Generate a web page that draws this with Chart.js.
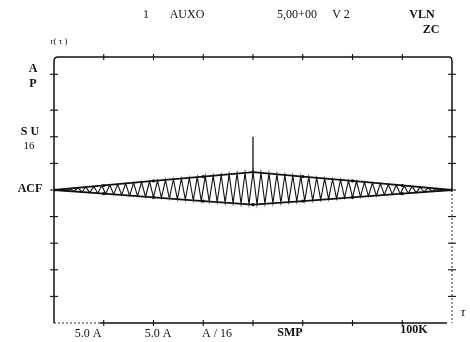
<!DOCTYPE html>
<html>
<head>
<meta charset="utf-8">
<script src="https://cdn.jsdelivr.net/npm/chart.js@4/dist/chart.umd.min.js"></script>
<style>
  html, body { margin: 0; padding: 0; background: #fff; }
  canvas { display: block; }
</style>
</head>
<body>
<canvas id="acf" width="470" height="342"></canvas>
<script>
// autocorrelation trace, one value per lag step
var acfValues = [
  0, -0.02, 0.05, -0.07, 0.11, -0.11, 0.16, -0.15, 0.22, -0.20,
  0.27, -0.24, 0.32, -0.29, 0.38, -0.33, 0.43, -0.37, 0.49, -0.42,
  0.54, -0.46, 0.59, -0.51, 0.65, -0.55, 0.70, -0.59, 0.76, -0.64,
  0.81, -0.68, 0.86, -0.73, 0.92, -0.77, 0.97, -0.81, 1.03, -0.86,
  1.08, -0.90, 1.13, -0.95, 1.19, -0.99, 1.24, -1.03, 1.30, -1.08,
  1.35,
  -1.08, 1.30, -1.03, 1.24, -0.99, 1.19, -0.95, 1.13, -0.90, 1.08,
  -0.86, 1.03, -0.81, 0.97, -0.77, 0.92, -0.73, 0.86, -0.68, 0.81,
  -0.64, 0.76, -0.59, 0.70, -0.55, 0.65, -0.51, 0.59, -0.46, 0.54,
  -0.42, 0.49, -0.37, 0.43, -0.33, 0.38, -0.29, 0.32, -0.24, 0.27,
  -0.20, 0.22, -0.15, 0.16, -0.11, 0.11, -0.07, 0.05, -0.02, 0
];

// envelope of the trace
var envLags  = [0, 12.5, 25, 37.5, 50, 62.5, 75, 87.5, 100];
var envUpper = [0, 0.34, 0.68, 1.01, 1.35, 1.01, 0.68, 0.34, 0];
var envLower = [0, -0.28, -0.55, -0.83, -1.1, -0.83, -0.55, -0.28, 0];

// marker spike at the centre lag
var spikeLag = 50;
var spikeY = [1.35, 4.0];

// division marks on the frame
var xTicks = [12.5, 25, 37.5, 50, 62.5, 75, 87.5];
var yTicks = [8.7, 6, 4, 2, 0, -2, -4, -6, -8];

var topLabels = ['1', 'AUXO', '5,00+00', 'V 2'];
var sideLabels = ['A', 'P', 'S U', '16', 'ACF'];
var bottomLabels = ['5.0 A', '5.0 A', 'A / 16', 'SMP', '100K'];

var ink = '#111';
var serif = '"Liberation Serif", "DejaVu Serif", serif';

function pairs(xs, ys) {
    return xs.map(function(x, i) { return { x: x, y: ys[i] }; });
}

// frame with cross ticks and the panel texts
var panel = {
    id: 'panel',
    afterDatasetsDraw: function(chart) {
        var ctx = chart.ctx;
        var a = chart.chartArea;
        var sx = chart.scales.x, sy = chart.scales.y;
        var zero = sy.getPixelForValue(0);

        function seg(x1, y1, x2, y2) {
            ctx.beginPath();
            ctx.moveTo(x1, y1);
            ctx.lineTo(x2, y2);
            ctx.stroke();
        }

        ctx.save();
        ctx.strokeStyle = ink;
        ctx.lineWidth = 1.5;
        // top and left edges with rounded corners
        ctx.beginPath();
        ctx.moveTo(a.left, a.bottom);
        ctx.lineTo(a.left, a.top + 4);
        ctx.quadraticCurveTo(a.left, a.top, a.left + 4, a.top);
        ctx.lineTo(a.right - 3, a.top);
        ctx.quadraticCurveTo(a.right, a.top, a.right, a.top + 4);
        ctx.lineTo(a.right, zero);
        ctx.stroke();
        // bottom edge, faint at the left end
        seg(sx.getPixelForValue(12.5) - 4, a.bottom, a.right - 5, a.bottom);
        ctx.setLineDash([2, 2]);
        ctx.lineWidth = 0.9;
        seg(a.left, a.bottom, sx.getPixelForValue(12.5) - 4, a.bottom);
        seg(a.right, zero, a.right, a.bottom);
        ctx.setLineDash([]);

        ctx.lineWidth = 1.1;
        xTicks.forEach(function(v) {
            var px = sx.getPixelForValue(v);
            seg(px, a.top - 3, px, a.top + 3);
            seg(px, a.bottom - 3, px, a.bottom + 3);
        });
        yTicks.forEach(function(v) {
            var py = sy.getPixelForValue(v);
            seg(a.left - 4, py, a.left + 4, py);
            seg(a.right - 4, py, a.right + 4, py);
        });

        ctx.fillStyle = ink;
        ctx.textAlign = 'center';
        ctx.textBaseline = 'middle';
        ctx.font = '12px ' + serif;
        var topX = [146, 187, 297, 341];
        topLabels.forEach(function(t, i) { ctx.fillText(t, topX[i], 15); });
        ctx.font = 'bold 12px ' + serif;
        ctx.fillText('VLN', 422, 15);
        ctx.fillText('ZC', 431, 30);

        ctx.font = '9px ' + serif;
        ctx.fillText('r( τ )', 59, 42);

        var sidePos = [[33, 69], [33, 84], [30, 132], [29, 146], [30, 189]];
        sideLabels.forEach(function(t, i) {
            ctx.font = (t === '16' ? '11px ' : 'bold 12px ') + serif;
            ctx.fillText(t, sidePos[i][0], sidePos[i][1]);
        });

        var botX = [88, 158, 217, 290, 414];
        var botY = [334, 334, 334, 333, 330];
        bottomLabels.forEach(function(t, i) {
            ctx.font = (t === 'SMP' || t === '100K' ? 'bold 12px ' : '12px ') + serif;
            ctx.fillText(t, botX[i], botY[i]);
        });
        ctx.font = 'italic 13px ' + serif;
        ctx.fillText('τ', 463, 313);
        ctx.restore();
    }
};

var ctx = document.getElementById('acf').getContext('2d');
var chart = new Chart(ctx, {
    type: 'line',
    data: {
        datasets: [{
            label: 'ACF',
            data: acfValues.map(function(v, i) { return { x: i, y: v }; }),
            borderColor: ink,
            borderWidth: 1.1,
            pointRadius: 0,
            tension: 0
        }, {
            label: 'upper',
            data: pairs(envLags, envUpper),
            borderColor: ink,
            borderWidth: 1.8,
            pointRadius: 1.6,
            pointBackgroundColor: ink,
            pointBorderWidth: 0,
            tension: 0
        }, {
            label: 'lower',
            data: pairs(envLags, envLower),
            borderColor: ink,
            borderWidth: 1.8,
            pointRadius: 1.6,
            pointBackgroundColor: ink,
            pointBorderWidth: 0,
            tension: 0
        }, {
            label: 'spike',
            data: [{ x: spikeLag, y: spikeY[0] }, { x: spikeLag, y: spikeY[1] }],
            borderColor: ink,
            borderWidth: 1.3,
            pointRadius: 0
        }]
    },
    options: {
        responsive: false,
        animation: false,
        layout: { padding: { left: 54, right: 18, top: 57, bottom: 19 } },
        plugins: {
            legend: { display: false },
            tooltip: { enabled: false }
        },
        scales: {
            x: { type: 'linear', min: 0, max: 100, display: false },
            y: { min: -10, max: 10, display: false }
        }
    },
    plugins: [panel]
});
</script>
</body>
</html>
